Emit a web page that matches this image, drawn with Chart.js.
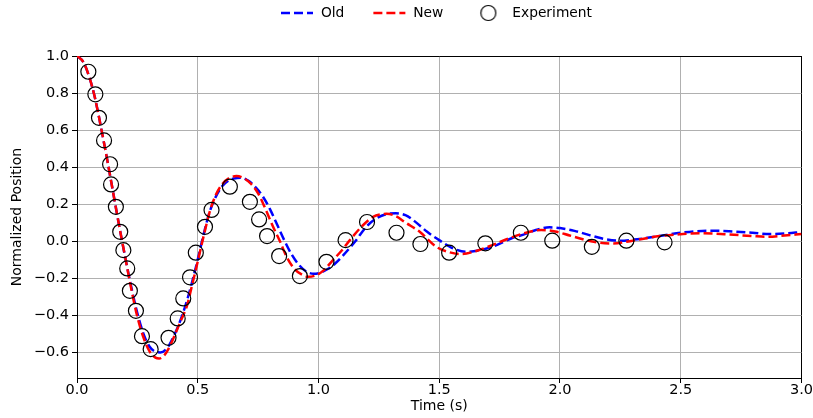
<!DOCTYPE html>
<html>
<head>
<meta charset="utf-8">
<script src="https://cdn.jsdelivr.net/npm/chart.js@4.4.1/dist/chart.umd.min.js"></script>
<style>
html, body { margin: 0; padding: 0; background: #fff; }
</style>
</head>
<body>
<canvas id="chart" width="813" height="418"></canvas>
<script>
// =========================
// DATA
// =========================
const oldX = [0, 0.025, 0.05, 0.075, 0.1, 0.125, 0.15, 0.175, 0.2, 0.225, 0.25, 0.275, 0.3, 0.325, 0.345,
  0.375, 0.4, 0.425, 0.45, 0.475, 0.5, 0.525, 0.55, 0.575, 0.6, 0.625, 0.65, 0.68, 0.71,
  0.74, 0.77, 0.8, 0.83, 0.86, 0.89, 0.92, 0.95, 0.98, 1.01, 1.04, 1.07, 1.1, 1.15, 1.2, 1.24, 1.28,
  1.32, 1.36, 1.4, 1.45, 1.5, 1.55, 1.61, 1.67, 1.72, 1.8, 1.86, 1.9, 1.957, 2.0, 2.06, 2.122, 2.18,
  2.247, 2.32, 2.412, 2.5, 2.619, 2.7, 2.798, 2.867, 2.93, 3.0];
const oldY = [1.0, 0.97, 0.89, 0.77, 0.61, 0.44, 0.26, 0.08, -0.09, -0.25, -0.39, -0.50, -0.57, -0.598, -0.602,
  -0.575, -0.515, -0.44, -0.345, -0.23, -0.10, 0.04, 0.16, 0.24, 0.295, 0.325, 0.338, 0.342, 0.325,
  0.29, 0.24, 0.17, 0.085, 0.0, -0.075, -0.13, -0.165, -0.177, -0.17, -0.15, -0.12, -0.08, -0.005, 0.08, 0.123, 0.145,
  0.15, 0.14, 0.105, 0.05, 0.005, -0.035, -0.058, -0.049, -0.031, 0.015, 0.04, 0.06, 0.074, 0.07, 0.055, 0.032, 0.012,
  0.002, 0.01, 0.027, 0.045, 0.056, 0.053, 0.045, 0.038, 0.041, 0.049];

const newX = [0, 0.025, 0.05, 0.075, 0.1, 0.125, 0.15, 0.175, 0.2, 0.225, 0.25, 0.275, 0.3, 0.325, 0.34,
  0.36, 0.38, 0.405, 0.43, 0.454, 0.48, 0.5, 0.525, 0.55, 0.575, 0.6, 0.63, 0.66, 0.69, 0.72,
  0.75, 0.78, 0.812, 0.84, 0.868, 0.9, 0.93, 0.957, 0.99, 1.02, 1.06, 1.1, 1.13, 1.18, 1.226, 1.26, 1.281,
  1.32, 1.36, 1.419, 1.488, 1.54, 1.591, 1.65, 1.72, 1.79, 1.86, 1.922, 1.98, 2.04, 2.109, 2.16, 2.219,
  2.3, 2.412, 2.5, 2.578, 2.68, 2.798, 2.853, 2.93, 3.0];
const newY = [1.0, 0.97, 0.89, 0.77, 0.61, 0.44, 0.26, 0.08, -0.09, -0.26, -0.41, -0.52, -0.595, -0.63, -0.635,
  -0.62, -0.58, -0.508, -0.43, -0.355, -0.22, -0.11, 0.03, 0.16, 0.25, 0.305, 0.34, 0.351, 0.34, 0.31,
  0.258, 0.175, 0.077, 0.0, -0.085, -0.15, -0.18, -0.193, -0.185, -0.16, -0.103, -0.045, 0.005, 0.08, 0.131, 0.145, 0.147,
  0.135, 0.10, 0.05, -0.031, -0.06, -0.07, -0.055, -0.022, 0.015, 0.045, 0.06, 0.052, 0.03, 0.005, -0.008, -0.013,
  0.002, 0.027, 0.037, 0.042, 0.037, 0.027, 0.023, 0.03, 0.038];

const expX = [0.047, 0.076, 0.091, 0.112, 0.137, 0.141, 0.161, 0.179, 0.192, 0.208, 0.219, 0.244, 0.269, 0.305,
  0.379, 0.417, 0.440, 0.468, 0.492, 0.530, 0.557, 0.633, 0.716, 0.754, 0.787, 0.837, 0.923,
  1.033, 1.112, 1.201, 1.323, 1.422, 1.541, 1.691, 1.838, 1.968, 2.132, 2.275, 2.433];
const expY = [0.915, 0.793, 0.666, 0.544, 0.415, 0.306, 0.185, 0.05, -0.049, -0.148, -0.269, -0.377, -0.514, -0.584,
  -0.523, -0.418, -0.31, -0.196, -0.063, 0.077, 0.168, 0.294, 0.212, 0.117, 0.027, -0.081, -0.189,
  -0.112, 0.005, 0.103, 0.045, -0.016, -0.063, -0.012, 0.045, 0.002, -0.031, 0.002, -0.007];

const seriesNames = ["Old", "New", "Experiment"];
const xTicks = { min: 0, max: 3.0, step: 0.5 };
const yTicks = { min: -0.74, max: 1.0, step: 0.2 };

const pts = (xs, ys) => xs.map((x, i) => ({ x: x, y: ys[i] }));

// =========================
// LEGEND ICONS
// =========================
function lineIcon(color) {
  const c = document.createElement("canvas");
  c.width = 34; c.height = 14;
  const g = c.getContext("2d");
  g.strokeStyle = color;
  g.lineWidth = 2.5;
  g.setLineDash([9, 4]);
  g.beginPath();
  g.moveTo(1, 7);
  g.lineTo(33, 7);
  g.stroke();
  return c;
}
function circleIcon() {
  const c = document.createElement("canvas");
  c.width = 34; c.height = 18;
  const g = c.getContext("2d");
  g.strokeStyle = "#000";
  g.lineWidth = 1.2;
  g.beginPath();
  g.arc(17, 9, 7.5, 0, Math.PI * 2);
  g.stroke();
  return c;
}
const legendIcons = [lineIcon("#0000ff"), lineIcon("#ff0000"), circleIcon()];

// put the legend row where the original figure has it
const legendShift = {
  id: "legendShift",
  afterLayout(chart) {
    const lg = chart.legend;
    const pad = lg.options.labels.padding;
    const dy = 6.1 - (lg.top + pad);
    lg.top += dy; lg.bottom += dy;
    const start = (lg.left + pad + lg.right - lg.lineWidths[0]) / 2;
    const dx = 280 - start;
    lg.left += dx; lg.right += dx;
  }
};

const fmt = v => (Math.abs(v) < 1e-9 ? "0.0" : v.toFixed(1)).replace("-", "\u2212");
const gridColor = edge => ctx => (ctx.tick && Math.abs(ctx.tick.value - edge) < 1e-9 ? "#000" : "#b0b0b0");

Chart.defaults.font.family = "DejaVu Sans";
Chart.defaults.font.size = 14;
Chart.defaults.color = "#000";

new Chart(document.getElementById("chart"), {
  type: "line",
  data: {
    datasets: [{
      label: seriesNames[0],
      data: pts(oldX, oldY),
      borderColor: "#0000ff",
      borderWidth: 2.5,
      borderDash: [9, 4],
      pointRadius: 0,
      cubicInterpolationMode: "monotone",
      order: 2
    }, {
      label: seriesNames[1],
      data: pts(newX, newY),
      borderColor: "#ff0000",
      borderWidth: 2.5,
      borderDash: [9, 4],
      pointRadius: 0,
      cubicInterpolationMode: "monotone",
      order: 1
    }, {
      label: seriesNames[2],
      data: pts(expX, expY),
      showLine: false,
      pointRadius: 7.5,
      pointBorderWidth: 1.2,
      pointBorderColor: "#000",
      pointBackgroundColor: "rgba(0,0,0,0)",
      order: 0
    }]
  },
  options: {
    responsive: false,
    animation: false,
    layout: { padding: { top: 4.2, left: 0, right: 0, bottom: 0 } },
    plugins: {
      tooltip: { enabled: false },
      legend: {
        position: "top",
        labels: {
          usePointStyle: true,
          pointStyleWidth: 34,
          boxHeight: 13,
          padding: 28,
          color: "#000",
          font: { size: 13.8 },
          generateLabels(chart) {
            const items = Chart.defaults.plugins.legend.labels.generateLabels(chart);
            items.forEach(it => { it.pointStyle = legendIcons[it.datasetIndex]; });
            return items;
          },
          sort: (a, b) => a.datasetIndex - b.datasetIndex
        }
      }
    },
    scales: {
      x: {
        type: "linear",
        min: xTicks.min,
        max: xTicks.max,
        afterFit: s => { s.height = 40; },
        ticks: { stepSize: xTicks.step, callback: fmt, padding: 0, maxRotation: 0, font: { size: 14.5, lineHeight: 1 } },
        grid: { color: gridColor(xTicks.max), tickColor: "#000", tickLength: 5, lineWidth: 1 },
        border: { color: "#000", width: 1 },
        title: { display: true, text: "Time (s)", padding: { top: 0, bottom: 3 } }
      },
      y: {
        min: yTicks.min,
        max: yTicks.max,
        afterFit: s => { s.width = 77; },
        ticks: { stepSize: yTicks.step, includeBounds: false, callback: fmt, padding: 3, font: { size: 14.5 } },
        grid: { color: gridColor(yTicks.max), tickColor: "#000", tickLength: 5, lineWidth: 1 },
        border: { color: "#000", width: 1 },
        title: { display: true, text: "Normalized Position", padding: { top: 9, bottom: 0 } }
      }
    }
  },
  plugins: [legendShift]
});
</script>
</body>
</html>
